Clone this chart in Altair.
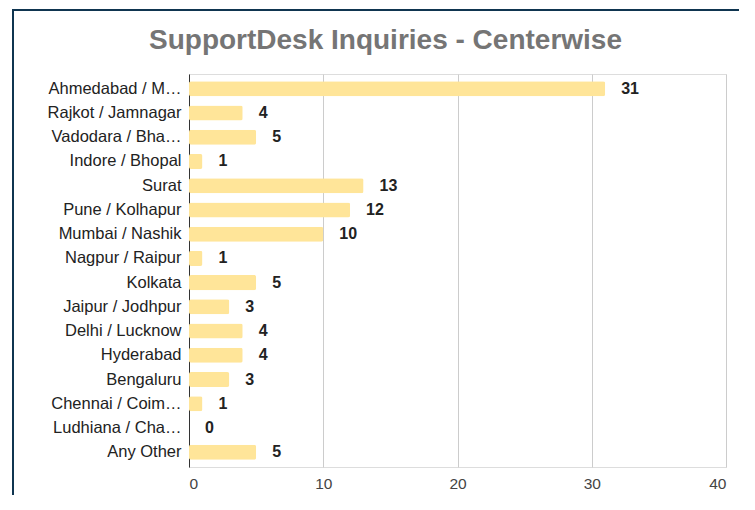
import altair as alt
import pandas as pd

centers = [
    "Ahmedabad / M…", "Rajkot / Jamnagar", "Vadodara / Bha…", "Indore / Bhopal",
    "Surat", "Pune / Kolhapur", "Mumbai / Nashik", "Nagpur / Raipur",
    "Kolkata", "Jaipur / Jodhpur", "Delhi / Lucknow", "Hyderabad",
    "Bengaluru", "Chennai / Coim…", "Ludhiana / Cha…", "Any Other",
]
inquiries = [31, 4, 5, 1, 13, 12, 10, 1, 5, 3, 4, 4, 3, 1, 0, 5]
x_ticks = [0, 10, 20, 30, 40]

df = pd.DataFrame({"center": centers, "count": inquiries})

FONT = "Liberation Sans"
W, H = 537, 393

y_enc = alt.Y("center:N", sort=centers,
              scale=alt.Scale(paddingInner=0.38, paddingOuter=0.3),
              axis=alt.Axis(title=None, ticks=False, domain=True, domainColor="#333333",
                            domainWidth=1, labelFont=FONT, labelFontSize=16.5,
                            labelColor="#222222", labelPadding=8, grid=False,
                            labelLimit=220))
x_enc = alt.X("count:Q", scale=alt.Scale(domain=[0, 40], nice=False),
              axis=alt.Axis(title=None, values=x_ticks, ticks=False, domain=False,
                            grid=True, gridColor="#cccccc", gridWidth=1,
                            labelFont=FONT, labelFontSize=15.5, labelColor="#444444",
                            labelPadding=9))

bars = alt.Chart(df).mark_bar(color="#FFE599", cornerRadius=2).encode(x=x_enc, y=y_enc)

labels = alt.Chart(df).mark_text(align="left", baseline="middle", dx=16,
                                  font=FONT, fontSize=16, fontWeight="bold",
                                  color="#222222").encode(
    x="count:Q", y=alt.Y("center:N", sort=centers), text="count:Q")

one = pd.DataFrame({"a": [0]})
frame_left = alt.Chart(one).mark_rule(color="#0f3550", strokeWidth=2).encode(
    x=alt.value(-176), y=alt.value(-65), y2=alt.value(421))
frame_top = alt.Chart(one).mark_rule(color="#0f3550", strokeWidth=2).encode(
    x=alt.value(-177), x2=alt.value(550), y=alt.value(-64))

chart = alt.layer(frame_left, frame_top, bars, labels).properties(
    width=W, height=H,
    title=alt.TitleParams("SupportDesk Inquiries - Centerwise", font=FONT, fontSize=28,
                          fontWeight="bold", color="#757575", anchor="middle",
                          frame="group", dx=-72, offset=-47),
    autosize=alt.AutoSizeParams(type="none"),
    padding={"left": 181, "top": 66, "right": 21, "bottom": 28},
).configure_view(stroke="transparent", strokeWidth=0).configure(background="white")

chart.save("out.html", embed_options={"renderer": "svg", "actions": False})
